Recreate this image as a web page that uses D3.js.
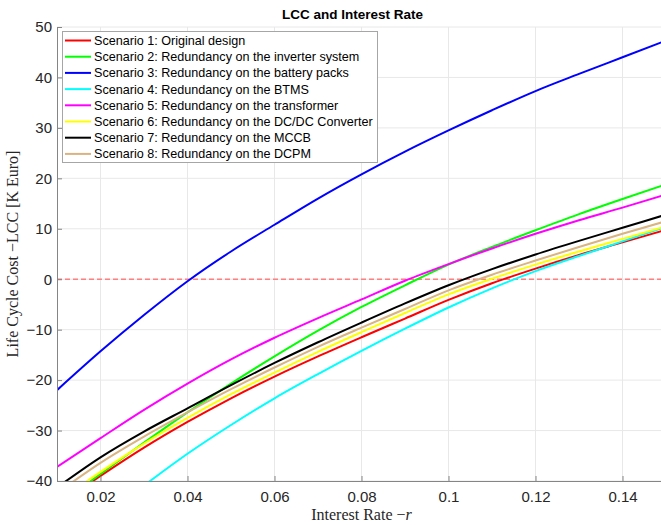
<!DOCTYPE html>
<html>
<head>
<meta charset="utf-8">
<script src="https://cdn.jsdelivr.net/npm/d3@7"></script>
<style>
    body { margin: 0; background: #fff; }
    svg { display: block; }
</style>
</head>
<body>
<svg id="chart" width="661" height="525"></svg>
<script>
    'use strict';

    // interest rate samples
    var rates = [0.01, 0.02, 0.03, 0.04, 0.05, 0.06, 0.07, 0.08, 0.09, 0.10, 0.11, 0.12, 0.13, 0.14, 0.15];

    // LCC in K Euro
    var lccScenario1 = [-44.9, -39.0, -33.4, -28.3, -23.6, -19.3, -15.3, -11.5, -7.8, -4.1, -0.8, 2.1, 4.8, 7.3, 9.8];
    var lccScenario2 = [-44.8, -38.6, -32.4, -26.4, -20.7, -15.3, -10.2, -5.5, -1.2, 2.9, 6.4, 9.7, 12.9, 15.9, 18.8];
    var lccScenario3 = [-22.0, -14.3, -7.1, -0.4, 5.5, 10.8, 16.0, 20.8, 25.3, 29.5, 33.5, 37.3, 40.7, 44.0, 47.3];
    var lccScenario4 = [null, null, -40.9, -34.6, -28.9, -23.6, -18.8, -14.2, -9.8, -5.6, -1.8, 1.6, 4.6, 7.5, 10.4];
    var lccScenario5 = [-37.2, -31.5, -25.9, -20.7, -15.9, -11.6, -7.7, -4.0, -0.3, 3.0, 6.1, 9.0, 11.7, 14.2, 16.8];
    var lccScenario6 = [-44.2, -38.2, -32.6, -27.5, -22.8, -18.5, -14.4, -10.5, -6.7, -3.0, 0.1, 2.9, 5.5, 8.0, 10.5];
    var lccScenario7 = [-41.3, -35.3, -30.2, -25.6, -21.0, -16.6, -12.5, -8.6, -4.8, -1.2, 2.0, 4.9, 7.6, 10.2, 12.8];
    var lccScenario8 = [-42.4, -36.4, -31.2, -26.4, -21.8, -17.5, -13.4, -9.6, -5.9, -2.2, 0.9, 3.7, 6.4, 9.0, 11.5];

    var scenarioNames = [
        'Scenario 1: Original design',
        'Scenario 2: Redundancy on the inverter system',
        'Scenario 3: Redundancy on the battery packs',
        'Scenario 4: Redundancy on the BTMS',
        'Scenario 5: Redundancy on the transformer',
        'Scenario 6: Redundancy on the DC/DC Converter',
        'Scenario 7: Redundancy on the MCCB',
        'Scenario 8: Redundancy on the DCPM'
    ];
    var scenarioColors = ['#ff0000', '#00ff00', '#0000ff', '#00ffff', '#ff00ff', '#ffff00', '#000000', '#d9b380'];

    var xTicks = [0.02, 0.04, 0.06, 0.08, 0.1, 0.12, 0.14];
    var yTicks = [-40, -30, -20, -10, 0, 10, 20, 30, 40, 50];

    var PLOT = {
        LEFT: 57,
        RIGHT: 666,
        TOP: 27,
        BOTTOM: 481
    };
    var AXIS_COLOR = '#858585';
    var GRID_COLOR = '#e8e8e8';
    var TEXT_COLOR = '#262626';
    var SANS = 'Arial, "Liberation Sans", Helvetica, sans-serif';
    var SERIF = '"Liberation Serif", "Times New Roman", serif';

    var svg = d3.select('#chart');

    var x = d3.scaleLinear().domain([0.01, 0.15]).range([PLOT.LEFT, PLOT.RIGHT]);
    var y = d3.scaleLinear().domain([-40, 50]).range([PLOT.BOTTOM, PLOT.TOP]);

    var series = [lccScenario1, lccScenario2, lccScenario3, lccScenario4,
        lccScenario5, lccScenario6, lccScenario7, lccScenario8].map(function (values, i) {
        return {
            name: scenarioNames[i],
            color: scenarioColors[i],
            points: rates.map(function (r, j) {
                return {r: r, v: values[j]};
            })
        };
    });

    function getter(key) {
        return function (data) {
            return data[key];
        };
    }

    function renderGrid() {
        var grid = svg.append('g');
        grid.selectAll('line.vx').data(xTicks).enter()
            .append('line')
            .attr('x1', x).attr('x2', x)
            .attr('y1', PLOT.TOP).attr('y2', PLOT.BOTTOM)
            .attr('stroke', GRID_COLOR)
            .attr('stroke-width', 1);
        grid.selectAll('line.hy').data(yTicks).enter()
            .append('line')
            .attr('x1', PLOT.LEFT).attr('x2', PLOT.RIGHT)
            .attr('y1', y).attr('y2', y)
            .attr('stroke', GRID_COLOR)
            .attr('stroke-width', 1);
    }

    function renderAxes() {
        var xAxis = d3.axisBottom(x)
            .tickValues(xTicks)
            .tickFormat(d3.format('~g'))
            .tickSizeInner(-5)
            .tickSizeOuter(0)
            .tickPadding(10);
        var yAxis = d3.axisLeft(y)
            .tickValues(yTicks)
            .tickSizeInner(-5)
            .tickSizeOuter(0)
            .tickPadding(5);

        var gx = svg.append('g')
            .attr('transform', 'translate(0,' + PLOT.BOTTOM + ')')
            .call(xAxis);
        var gy = svg.append('g')
            .attr('transform', 'translate(' + PLOT.LEFT + ',0)')
            .call(yAxis);

        [gx, gy].forEach(function (g) {
            g.select('.domain').attr('stroke', AXIS_COLOR);
            g.selectAll('.tick line').attr('stroke', AXIS_COLOR);
            g.selectAll('.tick text')
                .attr('fill', TEXT_COLOR)
                .style('font-family', SANS)
                .style('font-size', '15px');
        });
    }

    function renderZeroLine() {
        svg.append('line')
            .attr('x1', PLOT.LEFT).attr('x2', PLOT.RIGHT)
            .attr('y1', y(0)).attr('y2', y(0))
            .attr('stroke', '#ff8080')
            .attr('stroke-width', 1.5)
            .attr('stroke-dasharray', '5,3');
    }

    function renderLines() {
        svg.append('clipPath').attr('id', 'plot-clip')
            .append('rect')
            .attr('x', PLOT.LEFT)
            .attr('y', PLOT.TOP)
            .attr('width', PLOT.RIGHT - PLOT.LEFT)
            .attr('height', PLOT.BOTTOM - PLOT.TOP);

        var line = d3.line()
            .defined(function (d) {
                return d.v !== null;
            })
            .x(function (d) {
                return x(d.r);
            })
            .y(function (d) {
                return y(d.v);
            })
            .curve(d3.curveMonotoneX);

        svg.append('g')
            .attr('clip-path', 'url(#plot-clip)')
            .selectAll('path')
            .data(series).enter()
            .append('path')
            .attr('d', function (d) {
                return line(d.points);
            })
            .attr('fill', 'none')
            .attr('stroke', getter('color'))
            .attr('stroke-width', 2);
    }

    function renderLegend() {
        var legend = svg.append('g').attr('transform', 'translate(62,31)');
        legend.append('rect')
            .attr('x', 0.5).attr('y', 0.5)
            .attr('width', 315).attr('height', 131)
            .attr('fill', '#fff')
            .attr('stroke', '#a6a6a6')
            .attr('stroke-width', 1);

        var rows = legend.selectAll('g.row').data(series).enter()
            .append('g')
            .attr('transform', function (d, i) {
                return 'translate(0,' + (9.5 + i * 16.2) + ')';
            });
        rows.append('line')
            .attr('x1', 3).attr('x2', 29)
            .attr('y1', 0).attr('y2', 0)
            .attr('stroke', getter('color'))
            .attr('stroke-width', 2);
        rows.append('text')
            .attr('x', 32)
            .attr('dy', '0.35em')
            .attr('fill', '#000')
            .style('font-family', SANS)
            .style('font-size', '12.6px')
            .text(getter('name'));
    }

    function renderLabels() {
        var midX = (PLOT.LEFT + PLOT.RIGHT) / 2;
        svg.append('text')
            .attr('x', midX - 9)
            .attr('y', 19)
            .attr('text-anchor', 'middle')
            .attr('fill', '#000')
            .style('font-family', SANS)
            .style('font-size', '13.5px')
            .style('font-weight', 'bold')
            .text('LCC and Interest Rate');

        var xLabel = svg.append('text')
            .attr('x', midX)
            .attr('y', 520)
            .attr('text-anchor', 'middle')
            .attr('fill', TEXT_COLOR)
            .style('font-family', SERIF)
            .style('font-size', '16px');
        xLabel.append('tspan').text('Interest Rate \u2212');
        xLabel.append('tspan').style('font-style', 'italic').text('r');

        svg.append('text')
            .attr('transform', 'translate(18,' + ((PLOT.TOP + PLOT.BOTTOM) / 2) + ') rotate(-90)')
            .attr('text-anchor', 'middle')
            .attr('fill', TEXT_COLOR)
            .style('font-family', SERIF)
            .style('font-size', '16px')
            .text('Life Cycle Cost \u2212LCC [K Euro]');
    }

    renderGrid();
    renderZeroLine();
    renderLines();
    renderAxes();
    renderLegend();
    renderLabels();
</script>
</body>
</html>
